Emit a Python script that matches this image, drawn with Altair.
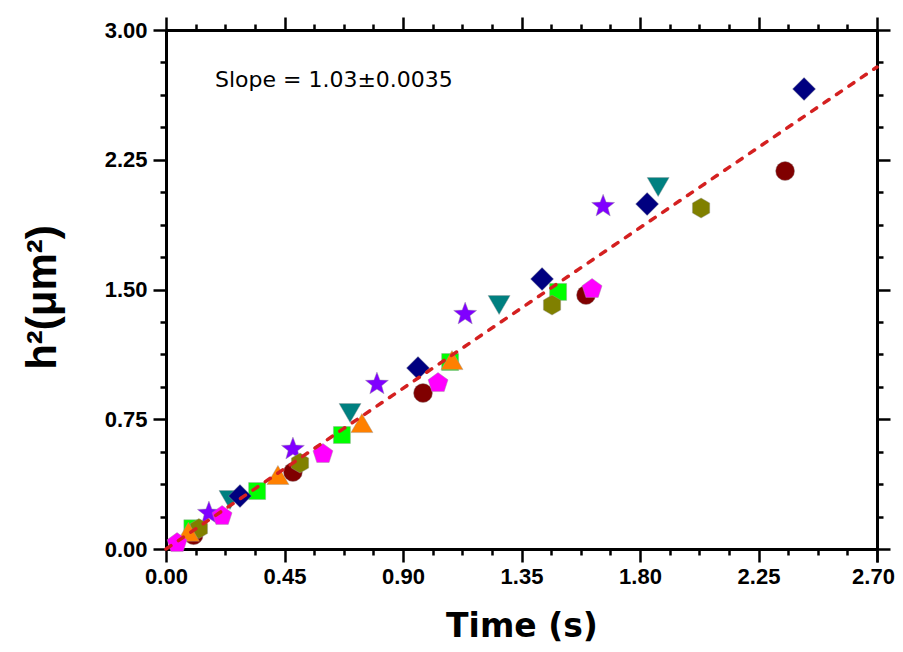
import math
import altair as alt
import pandas as pd

# ---------------- data ----------------
maroon_t = [0.105, 0.482, 0.976, 1.595, 2.351]
maroon_h = [0.080, 0.445, 0.902, 1.468, 2.185]
navy_t = [0.281, 0.957, 1.428, 1.827, 2.423]
navy_h = [0.306, 1.046, 1.561, 1.994, 2.659]
teal_t = [0.243, 0.699, 1.265, 1.869]
teal_h = [0.283, 0.786, 1.410, 2.092]
violet_t = [0.163, 0.482, 0.801, 1.136, 1.660]
violet_h = [0.214, 0.584, 0.960, 1.364, 1.988]
magenta_t = [0.042, 0.213, 0.596, 1.033, 1.618]
magenta_h = [0.040, 0.197, 0.555, 0.965, 1.509]
green_t = [0.100, 0.346, 0.668, 1.079, 1.489]
green_h = [0.120, 0.335, 0.659, 1.081, 1.486]
orange_t = [0.085, 0.425, 0.744, 1.086]
orange_h = [0.100, 0.428, 0.728, 1.092]
olive_t = [0.125, 0.509, 1.466, 2.032]
olive_h = [0.118, 0.497, 1.410, 1.971]

fit_t = [0.0, 2.70]
fit_h = [0.0, 2.786]

slope_label = "Slope = 1.03\u00b10.0035"
slope_pos_t = [0.186]
slope_pos_h = [2.668]

x_major_ticks = [0.0, 0.45, 0.90, 1.35, 1.80, 2.25, 2.70]
y_major_ticks = [0.0, 0.75, 1.50, 2.25, 3.00]

# ---------------- marker shapes (unit box -1..1) ----------------
def poly_path(pts):
    return "M" + " L".join(f"{x:.4f},{y:.4f}" for x, y in pts) + " Z"

star_pts = []
for k in range(10):
    ang = math.radians(-90 + 36 * k)
    r = 1.0 if k % 2 == 0 else 0.42
    star_pts.append((r * math.cos(ang), r * math.sin(ang) + 0.095))
star_path = poly_path(star_pts)
pent_path = poly_path([(math.cos(math.radians(-90 + 72 * k)),
                        math.sin(math.radians(-90 + 72 * k)) + 0.095) for k in range(5)])
hex_path = poly_path([(math.cos(math.radians(-90 + 60 * k)),
                       math.sin(math.radians(-90 + 60 * k))) for k in range(6)])

# draw order (bottom -> top): name, t, h, colour, shape, size
series = [
    ("teal", teal_t, teal_h, "#008080", "triangle-down", 484),
    ("violet", violet_t, violet_h, "#8000FF", star_path, 585),
    ("maroon", maroon_t, maroon_h, "#800000", "circle", 361),
    ("green", green_t, green_h, "#00FF00", "square", 289),
    ("olive", olive_t, olive_h, "#808000", hex_path, 400),
    ("navy", navy_t, navy_h, "#000080", "diamond", 529),
    ("orange", orange_t, orange_h, "#FF8000", "triangle-up", 484),
    ("magenta", magenta_t, magenta_h, "#FF00FF", pent_path, 441),
]

fit_df = pd.DataFrame({"t": fit_t, "h": fit_h})
txt_df = pd.DataFrame({"t": slope_pos_t, "h": slope_pos_h, "label": [slope_label]})

x_minor_ticks = [round(0.1125 * i, 4) for i in range(25) if i % 4 != 0]
y_minor_ticks = [round(0.1875 * i, 4) for i in range(17) if i % 4 != 0]

xs = alt.Scale(domain=[0, 2.7], nice=False, zero=False)
ys = alt.Scale(domain=[0, 3.0], nice=False, zero=False)

base_ax = dict(domainColor="black", domainWidth=3, tickColor="black",
               tickWidth=2.5, grid=False)
label_style = dict(format=".2f", labelFont="Liberation Sans", labelFontSize=22,
                   labelFontWeight="bold", labelColor="black",
                   labelFlush=False, labelOverlap=False)

def plain_axis(orient, vals, size):
    return alt.Axis(orient=orient, values=vals, labels=False, title=None,
                    tickSize=size, **base_ax)

x_main = alt.Axis(orient="bottom", values=x_major_ticks, tickSize=13, labelPadding=4,
                  labelExpr="datum.value > 2.6 ? '' : datum.label",
                  title="Time (s)", titleFont="DejaVu Sans", titleFontSize=33,
                  titleFontWeight="bold", titleColor="black",
                  titleBaseline="alphabetic", titleY=87, **label_style, **base_ax)
# last x label nudged slightly left so it stays inside the page
x_last = alt.Axis(orient="bottom", values=[x_major_ticks[-1]], tickSize=13,
                  labelPadding=4, labelOffset=-4, title=None, **label_style, **base_ax)
y_main = alt.Axis(orient="left", values=y_major_ticks, tickSize=13, labelPadding=6,
                  title="h\u00b2(\u03bcm\u00b2)", titleFont="Liberation Sans",
                  titleFontSize=42, titleFontWeight="bold", titleColor="black",
                  titleAngle=270, titleBaseline="alphabetic", titleAlign="center",
                  titleX=-111, titleY=267, **label_style, **base_ax)

layers = []
for name, ts, hs, col, shp, sz in series:
    df = pd.DataFrame({"t": ts, "h": hs})
    layers.append(
        alt.Chart(df).mark_point(filled=True, opacity=1, shape=shp, size=sz,
                                 color=col, stroke="#9a9a9a", strokeWidth=0.6,
                                 strokeOpacity=0.7).encode(
            x=alt.X("t:Q", scale=xs, axis=None),
            y=alt.Y("h:Q", scale=ys, axis=None),
        )
    )

line = alt.Chart(fit_df).mark_line(color="#D42020", strokeWidth=3.5,
                                   strokeDash=[6, 9], strokeCap="round").encode(
    x=alt.X("t:Q", scale=xs, axis=x_main),
    y=alt.Y("h:Q", scale=ys, axis=y_main),
)

text = alt.Chart(txt_df).mark_text(font="DejaVu Sans", fontSize=22, color="black",
                                   align="left", baseline="alphabetic").encode(
    x=alt.X("t:Q", scale=xs, axis=plain_axis("top", x_major_ticks, 13)),
    y=alt.Y("h:Q", scale=ys, axis=plain_axis("right", y_major_ticks, 13)),
    text="label:N",
)

minor_a = alt.Chart(fit_df).mark_point(opacity=0).encode(
    x=alt.X("t:Q", scale=xs, axis=plain_axis("bottom", x_minor_ticks, 6)),
    y=alt.Y("h:Q", scale=ys, axis=plain_axis("left", y_minor_ticks, 6)),
)
minor_b = alt.Chart(fit_df).mark_point(opacity=0).encode(
    x=alt.X("t:Q", scale=xs, axis=plain_axis("top", x_minor_ticks, 6)),
    y=alt.Y("h:Q", scale=ys, axis=plain_axis("right", y_minor_ticks, 6)),
)
last_lab = alt.Chart(fit_df).mark_point(opacity=0).encode(
    x=alt.X("t:Q", scale=xs, axis=x_last),
    y=alt.Y("h:Q", scale=ys, axis=None),
)

chart = alt.layer(*layers, line, text, minor_a, minor_b, last_lab).resolve_axis(
    x="independent", y="independent"
).properties(
    width=711, height=519,
    autosize=alt.AutoSizeParams(type="none"),
    padding={"left": 158, "top": 22, "right": 18, "bottom": 95},
    background="white",
).configure_view(strokeWidth=0)

chart.save("out.html", embed_options={"renderer": "svg", "actions": False})
